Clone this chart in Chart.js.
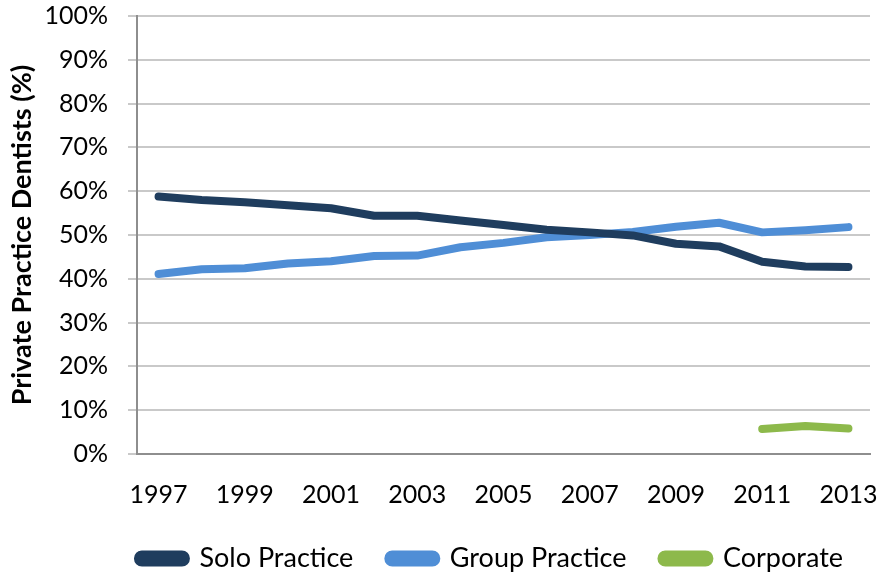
<!DOCTYPE html>
<html>
<head>
<meta charset="utf-8">
<script src="https://cdn.jsdelivr.net/npm/chart.js@4.4.1/dist/chart.umd.min.js"></script>
<style>
  html, body { margin: 0; padding: 0; background: #fff; }
  #wrap { position: relative; width: 878px; height: 574px; }
</style>
</head>
<body>
<div id="wrap"><canvas id="chart"></canvas></div>
<script>
// Data
const years = ['1997', '1998', '1999', '2000', '2001', '2002', '2003', '2004', '2005',
  '2006', '2007', '2008', '2009', '2010', '2011', '2012', '2013'];
const soloPractice = [58.8, 58.0, 57.5, 56.8, 56.1, 54.4, 54.4, 53.3, 52.3,
  51.2, 50.6, 49.9, 48.0, 47.4, 43.9, 42.8, 42.7];
const groupPractice = [41.1, 42.2, 42.4, 43.5, 44.0, 45.2, 45.3, 47.2, 48.2,
  49.5, 50.0, 50.7, 51.9, 52.8, 50.6, 51.1, 51.8];
const corporate = [null, null, null, null, null, null, null, null, null,
  null, null, null, null, null, 5.7, 6.4, 5.8];
const yTicks = [0, 10, 20, 30, 40, 50, 60, 70, 80, 90, 100];

const FONT = 'Lato, "Open Sans", sans-serif';
const GRID = '#c9c9c9';
const AXIS = '#8e8e8e';

function series(label, data, color) {
  return {
    label,
    data,
    borderColor: color,
    backgroundColor: color,
    borderWidth: 8,
    borderCapStyle: 'round',
    borderJoinStyle: 'round',
    pointRadius: 0,
    tension: 0,
    spanGaps: false,
  };
}

new Chart(document.getElementById('chart'), {
  type: 'line',
  data: {
    labels: years,
    datasets: [
      series('Solo Practice', soloPractice, '#1f3d5e'),
      series('Group Practice', groupPractice, '#4f8ed6'),
      series('Corporate', corporate, '#8db94b'),
    ],
  },
  options: {
    responsive: true,
    maintainAspectRatio: false,
    animation: false,
    layout: { padding: { top: 0, right: 0, left: 6, bottom: 0 } },
    plugins: {
      tooltip: { enabled: false },
      legend: {
        position: 'bottom',
        align: 'end',
        maxHeight: 64,
        labels: {
          color: '#000',
          font: { family: FONT, size: 27 },
          boxWidth: 48,
          boxHeight: 8,
          useBorderRadius: true,
          borderRadius: 4,
          padding: 35,
        },
      },
    },
    scales: {
      x: {
        offset: true,
        grid: { display: false, drawTicks: false },
        border: { color: AXIS, width: 2 },
        afterFit: axis => {
          axis.paddingRight = 8;
          axis.height = 56;
        },
        ticks: {
          color: '#000',
          font: { family: FONT, size: 25 },
          padding: 26,
          autoSkip: false,
          maxRotation: 0,
          callback: (v, i) => (i % 2 === 0 ? years[i] : ''),
        },
      },
      y: {
        min: 0,
        max: 100,
        afterBuildTicks: axis => { axis.ticks = yTicks.map(v => ({ value: v })); },
        afterFit: axis => {
          axis.width = 131;
          axis.paddingTop = 16;
          axis.paddingBottom = 15;
        },
        grid: { color: GRID, lineWidth: 2, tickLength: 9, tickColor: GRID },
        border: { color: AXIS, width: 2 },
        ticks: {
          color: '#000',
          font: { family: FONT, size: 25 },
          padding: 20,
          callback: v => v + '%',
        },
        title: {
          display: true,
          text: 'Private Practice Dentists (%)',
          color: '#000',
          font: { family: FONT, size: 27, weight: 'bold' },
          padding: { top: 0, bottom: 4 },
        },
      },
    },
  },
});
</script>
</body>
</html>
